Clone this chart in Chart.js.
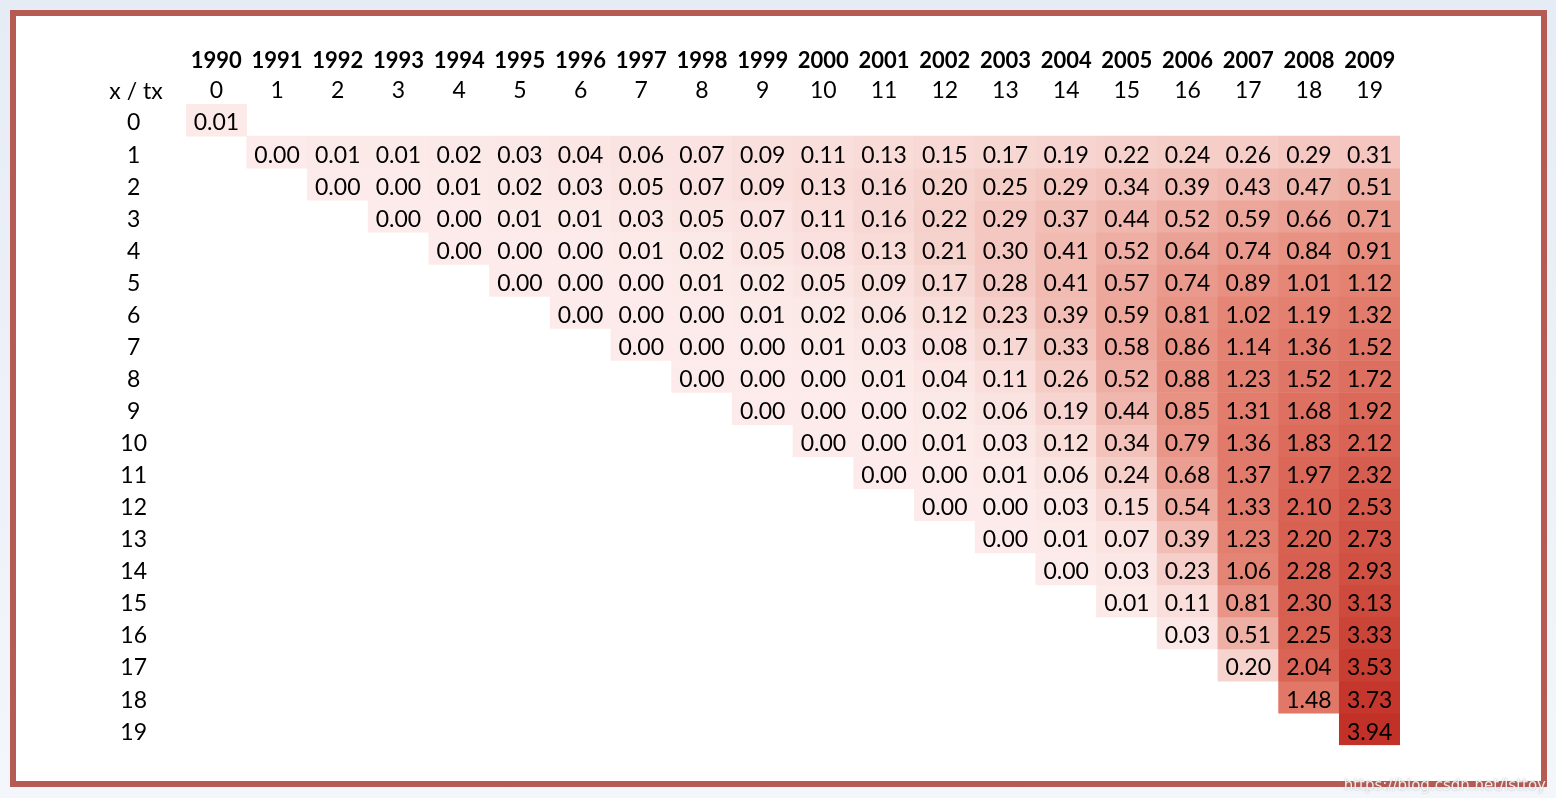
<!DOCTYPE html>
<html>
<head>
<meta charset="utf-8">
<script src="https://cdn.jsdelivr.net/npm/chart.js@4"></script>
<style>
  html, body { margin: 0; padding: 0; }
  body {
    width: 1556px; height: 798px; overflow: hidden; position: relative;
    background: linear-gradient(180deg, #e6ecf5 0%, #f3f6fa 100%);
    font-family: Lato, "Open Sans", sans-serif;
  }
  .frame {
    position: absolute; left: 10px; top: 10px; width: 1525px; height: 765px;
    background: #fff; border: 6px solid #b65a54;
  }
  #heat { position: absolute; left: 0; top: 0; }
  .mark {
    position: absolute; right: 10px; bottom: 4px; font-size: 15px;
    color: rgba(255,255,255,0.85); text-shadow: 0 0 2px rgba(120,120,120,0.6);
    font-family: "DejaVu Sans", sans-serif;
  }
</style>
</head>
<body>
<div class="frame"></div>
<canvas id="heat" width="1556" height="798"></canvas>
<div class="mark">https://blog.csdn.net/lsttoy</div>
<script>
// column labels (tx index and calendar year)
const txLabels = ['0','1','2','3','4','5','6','7','8','9','10','11','12','13','14','15','16','17','18','19'];
const yearLabels = ['1990','1991','1992','1993','1994','1995','1996','1997','1998','1999',
  '2000','2001','2002','2003','2004','2005','2006','2007','2008','2009'];
const rowLabels = [0,1,2,3,4,5,6,7,8,9,10,11,12,13,14,15,16,17,18,19];

// row x starts at column tx = x and runs to the last column
const row0  = [0.01];
const row1  = [0.00,0.01,0.01,0.02,0.03,0.04,0.06,0.07,0.09,0.11,0.13,0.15,0.17,0.19,0.22,0.24,0.26,0.29,0.31];
const row2  = [0.00,0.00,0.01,0.02,0.03,0.05,0.07,0.09,0.13,0.16,0.20,0.25,0.29,0.34,0.39,0.43,0.47,0.51];
const row3  = [0.00,0.00,0.01,0.01,0.03,0.05,0.07,0.11,0.16,0.22,0.29,0.37,0.44,0.52,0.59,0.66,0.71];
const row4  = [0.00,0.00,0.00,0.01,0.02,0.05,0.08,0.13,0.21,0.30,0.41,0.52,0.64,0.74,0.84,0.91];
const row5  = [0.00,0.00,0.00,0.01,0.02,0.05,0.09,0.17,0.28,0.41,0.57,0.74,0.89,1.01,1.12];
const row6  = [0.00,0.00,0.00,0.01,0.02,0.06,0.12,0.23,0.39,0.59,0.81,1.02,1.19,1.32];
const row7  = [0.00,0.00,0.00,0.01,0.03,0.08,0.17,0.33,0.58,0.86,1.14,1.36,1.52];
const row8  = [0.00,0.00,0.00,0.01,0.04,0.11,0.26,0.52,0.88,1.23,1.52,1.72];
const row9  = [0.00,0.00,0.00,0.02,0.06,0.19,0.44,0.85,1.31,1.68,1.92];
const row10 = [0.00,0.00,0.01,0.03,0.12,0.34,0.79,1.36,1.83,2.12];
const row11 = [0.00,0.00,0.01,0.06,0.24,0.68,1.37,1.97,2.32];
const row12 = [0.00,0.00,0.03,0.15,0.54,1.33,2.10,2.53];
const row13 = [0.00,0.01,0.07,0.39,1.23,2.20,2.73];
const row14 = [0.00,0.03,0.23,1.06,2.28,2.93];
const row15 = [0.01,0.11,0.81,2.30,3.13];
const row16 = [0.03,0.51,2.25,3.33];
const row17 = [0.20,2.04,3.53];
const row18 = [1.48,3.73];
const row19 = [3.94];

const rows = [row0,row1,row2,row3,row4,row5,row6,row7,row8,row9,
  row10,row11,row12,row13,row14,row15,row16,row17,row18,row19];

// colour ramp, light pink -> red
const stops = [
  [0.00, [252,235,234]],
  [0.30, [244,199,192]],
  [0.60, [236,165,153]],
  [1.00, [229,134,118]],
  [2.00, [218,102,87]],
  [3.00, [207,78,64]],
  [3.94, [194,49,40]]
];
function cellColor(v) {
  if (v == null) return 'rgba(0,0,0,0)';
  for (let i = 1; i < stops.length; i++) {
    if (v <= stops[i][0]) {
      const [a, ca] = stops[i - 1], [b, cb] = stops[i];
      const t = (v - a) / (b - a);
      const c = ca.map((k, j) => Math.round(k + (cb[j] - k) * t));
      return `rgb(${c[0]},${c[1]},${c[2]})`;
    }
  }
  const c = stops[stops.length - 1][1];
  return `rgb(${c[0]},${c[1]},${c[2]})`;
}

const datasets = rows.map((vals, r) => {
  const data = txLabels.map((_, c) => {
    const k = c - r;
    return k >= 0 && k < vals.length ? [r - 0.5, r + 0.5] : null;
  });
  const values = txLabels.map((_, c) => {
    const k = c - r;
    return k >= 0 && k < vals.length ? vals[k] : null;
  });
  return {
    label: 'x=' + r,
    data: data,
    values: values,
    backgroundColor: values.map(cellColor),
    borderWidth: 0,
    grouped: false,
    barPercentage: 1,
    categoryPercentage: 1
  };
});

const FONT = 'Lato';
const FSIZE = 23;

const cellText = {
  id: 'cellText',
  afterDatasetsDraw(chart) {
    const ctx = chart.ctx;
    ctx.save();
    ctx.font = FSIZE + 'px ' + FONT;
    ctx.fillStyle = '#000';
    ctx.textAlign = 'center';
    ctx.textBaseline = 'middle';
    chart.data.datasets.forEach((ds, i) => {
      const meta = chart.getDatasetMeta(i);
      meta.data.forEach((el, j) => {
        const v = ds.values[j];
        if (v == null) return;
        ctx.fillText(v.toFixed(2), el.x, (el.y + el.base) / 2 + 3);
      });
    });
    // corner label over the row axis
    const ys = chart.scales.y;
    ctx.fillText('x / tx', (ys.left + ys.right) / 2 + 1, chart.chartArea.top - 12);
    ctx.restore();
  }
};

new Chart(document.getElementById('heat'), {
  type: 'bar',
  data: { labels: txLabels, datasets: datasets },
  options: {
    responsive: false,
    animation: false,
    layout: { padding: { left: 84, right: 156, top: 42, bottom: 30 } },
    plugins: { legend: { display: false }, tooltip: { enabled: false } },
    scales: {
      x: {
        type: 'category',
        position: 'top',
        weight: 0,
        grid: { display: false, drawTicks: false },
        border: { display: false },
        ticks: { color: '#000', font: { family: FONT, size: FSIZE }, padding: 0, maxRotation: 0, autoSkip: false },
        afterFit(s) { s.height = 30; }
      },
      xYear: {
        type: 'category',
        position: 'top',
        weight: 1,
        labels: yearLabels,
        grid: { display: false, drawTicks: false },
        border: { display: false },
        ticks: { color: '#000', font: { family: FONT, size: FSIZE - 1, weight: 'bold' }, padding: 0, maxRotation: 0, autoSkip: false },
        afterFit(s) { s.height = 32; }
      },
      y: {
        type: 'linear',
        reverse: true,
        min: -0.5,
        max: 19.5,
        grid: { display: false, drawTicks: false },
        border: { display: false },
        afterBuildTicks(s) { s.ticks = rowLabels.map(v => ({ value: v })); },
        ticks: { color: '#000', font: { family: FONT, size: FSIZE }, padding: 39, crossAlign: 'center', labelOffset: 3 },
        afterFit(s) { s.width = 102; }
      }
    }
  },
  plugins: [cellText]
});
</script>
</body>
</html>
